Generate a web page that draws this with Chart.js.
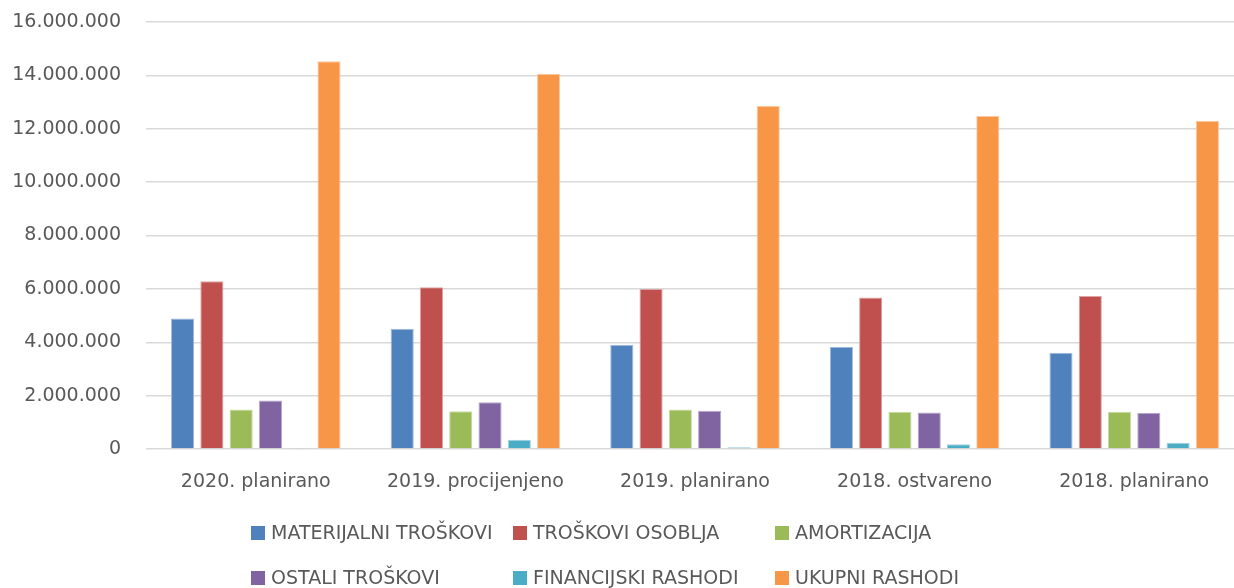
<!DOCTYPE html>
<html>
<head>
<meta charset="utf-8">
<script src="https://cdn.jsdelivr.net/npm/chart.js@4/dist/chart.umd.min.js"></script>
<style>
  html, body { margin: 0; padding: 0; background: #fff; overflow: hidden; }
  #wrap { width: 1234px; height: 588px; overflow: hidden; }
</style>
</head>
<body>
<div id="wrap"><canvas id="chart" width="1246" height="588"></canvas></div>
<script>
const categories = ['2020. planirano', '2019. procijenjeno', '2019. planirano', '2018. ostvareno', '2018. planirano'];
const materijalni = [4890000, 4510000, 3910000, 3820000, 3610000];
const osoblja = [6290000, 6060000, 6000000, 5680000, 5730000];
const amortizacija = [1480000, 1410000, 1480000, 1400000, 1400000];
const ostali = [1820000, 1750000, 1430000, 1370000, 1360000];
const financijski = [20000, 350000, 70000, 180000, 230000];
const ukupni = [14530000, 14060000, 12850000, 12480000, 12300000];
const yTicks = [0, 2000000, 4000000, 6000000, 8000000, 10000000, 12000000, 14000000, 16000000];

const FONT = "'DejaVu Sans', sans-serif";
const TEXT = '#595959';

function fmt(v) {
  return v.toString().replace(/\B(?=(\d{3})+(?!\d))/g, '.');
}

function series(label, values, color, border) {
  return {
    label: label,
    data: values,
    backgroundColor: color,
    borderColor: border,
    borderWidth: 1,
    categoryPercentage: 0.8,
    barPercentage: 0.79,
  };
}

// legend drawn as a 3-column grid, like the original
const gridLegend = {
  id: 'gridLegend',
  afterDraw(chart) {
    const ctx = chart.ctx;
    const cols = [251, 513, 775];
    const rows = [533, 578];
    ctx.save();
    ctx.font = '19px ' + FONT;
    ctx.textBaseline = 'middle';
    chart.data.datasets.forEach((ds, i) => {
      const x = cols[i % 3];
      const y = rows[Math.floor(i / 3)];
      ctx.fillStyle = ds.backgroundColor;
      ctx.fillRect(x, y - 7, 14, 14);
      ctx.fillStyle = TEXT;
      ctx.fillText(ds.label, x + 20, y + 1);
    });
    ctx.restore();
  },
};

new Chart(document.getElementById('chart'), {
  type: 'bar',
  data: {
    labels: categories,
    datasets: [
      series('MATERIJALNI TROŠKOVI', materijalni, '#4F81BD', '#9fb9dc'),
      series('TROŠKOVI OSOBLJA', osoblja, '#C0504D', '#dba3a1'),
      series('AMORTIZACIJA', amortizacija, '#9BBB59', '#c8dba6'),
      series('OSTALI TROŠKOVI', ostali, '#8064A2', '#b8a8cd'),
      series('FINANCIJSKI RASHODI', financijski, '#4BACC6', '#a1d2e0'),
      series('UKUPNI RASHODI', ukupni, '#F79646', '#fbc8a0'),
    ],
  },
  options: {
    responsive: false,
    animation: false,
    layout: {
      padding: { top: 22, right: 2, left: 0, bottom: 0 },
    },
    plugins: {
      legend: { display: false },
      tooltip: { enabled: false },
    },
    scales: {
      x: {
        grid: { display: false },
        border: { display: false },
        ticks: {
          color: TEXT,
          font: { family: FONT, size: 19 },
          padding: 14,
          maxRotation: 0,
        },
        afterFit(scale) { scale.height = 139; },
      },
      y: {
        min: 0,
        max: 16000000,
        border: { display: false },
        grid: {
          color: '#d9d9d9',
          lineWidth: 1.5,
          drawTicks: false,
        },
        afterBuildTicks(scale) {
          scale.ticks = yTicks.map(v => ({ value: v }));
        },
        ticks: {
          color: TEXT,
          font: { family: FONT, size: 19 },
          padding: 25,
          callback: v => fmt(v),
        },
        afterFit(scale) {
          scale.width = 146;
          scale.paddingTop = 0;
          scale.paddingBottom = 0;
        },
      },
    },
  },
  plugins: [gridLegend],
});
</script>
</body>
</html>
